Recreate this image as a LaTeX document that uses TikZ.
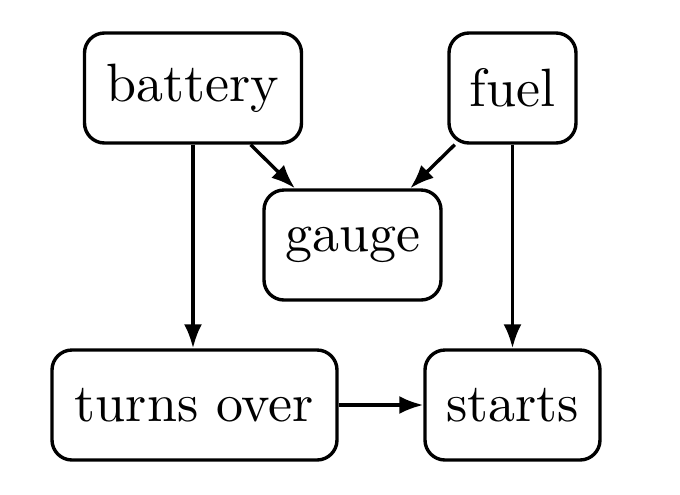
\documentclass[tikz,border=0pt]{standalone}
\usepackage{fontspec}
\newfontfamily\tenrm{lmroman10-regular.otf}
\usetikzlibrary{arrows.meta}
\begin{document}
\begin{tikzpicture}[x=1pt,y=1pt,
  box/.style={draw, line width=1.7pt, rounded corners=10pt, minimum height=55pt, inner sep=0pt, align=center, font=\tenrm\fontsize{27}{32}\selectfont},
  conn/.style={line width=1.7pt, -{Latex[length=12pt,width=9pt]}}]
\useasboundingbox (0,0) rectangle (340,-247);
\node[box, minimum width=108.5pt] (battery) at (96.5,-44) {battery};
\node[box, minimum width=63.5pt] (fuel) at (256.25,-44) {fuel};
\node[box, minimum width=88.5pt] (gauge) at (176.25,-122.5) {gauge};
\node[box, minimum width=142.5pt] (turns) at (97.25,-202.5) {turns over};
\node[box, minimum width=87.5pt] (starts) at (256.25,-202.5) {starts};
\draw[conn] (battery.south -| 96.5,0) -- (turns.north -| 96.5,0);
\draw[conn] (fuel) -- (starts);
\draw[conn] (battery) -- (gauge);
\draw[conn] (fuel) -- (gauge);
\draw[conn] (turns) -- (starts);
\end{tikzpicture}
\end{document}
